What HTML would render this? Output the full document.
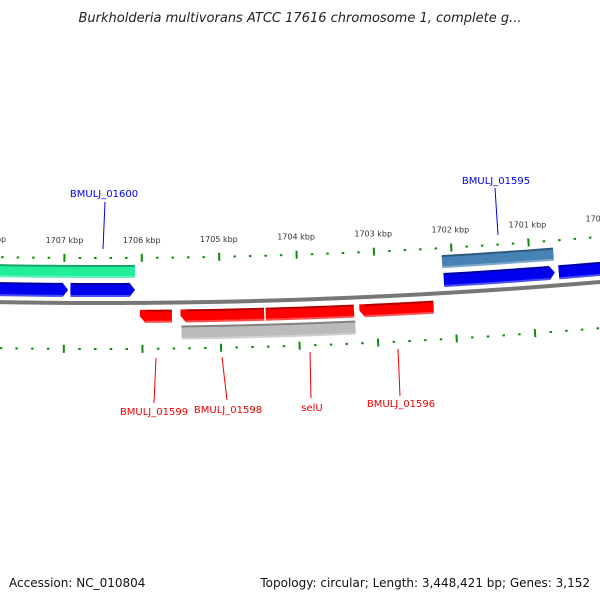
<!DOCTYPE html>
<html><head><meta charset="utf-8"><style>
body{margin:0;background:#fff}
svg{display:block;font-family:"DejaVu Sans","Liberation Sans",sans-serif}
</style></head><body>
<svg id="map" width="600" height="600" viewBox="0 0 600 600">
<text x="300" y="22" text-anchor="middle" font-size="13" font-style="italic" fill="#222">Burkholderia multivorans ATCC 17616 chromosome 1, complete g...</text>
<text x="9" y="587" font-size="12" fill="#111">Accession: NC_010804</text>
<text x="590" y="587" text-anchor="end" font-size="12" fill="#111">Topology: circular; Length: 3,448,421 bp; Genes: 3,152</text>
<g id="g"></g>
</svg>
<script>
const tickKbp=[1699,1700,1701,1702,1703,1704,1705,1706,1707,1708];
const geneNames=["green-1","green-2","blue-1","blue-2","BMULJ_01599","BMULJ_01598","selU","BMULJ_01596","gray-1","steelblue-1","BMULJ_01595","blue-4"];
const geneStart=[1707.95,1706.94,1707.95,1706.92,1706.03,1705.51,1704.42,1703.22,1705.50,1702.13,1702.12,1700.64];
const geneEnd=[1706.94,1706.09,1706.95,1706.09,1705.62,1704.44,1703.29,1702.27,1703.28,1700.69,1700.69,1699.87];
const geneStrand=[0,0,1,1,-1,-1,0,-1,0,0,1,1];
const geneTrack=[0,0,1,1,2,2,2,2,3,0,1,1];
const geneColor=["#22ee99","#22ee99","#0000ee","#0000ee","#ff0000","#ff0000","#ff0000","#ff0000","#bbbbbb","#4682b4","#0000ee","#0000ee"];
const labels=[
 {t:"BMULJ_01600",x:104,y:197,c:"#0000ee",l:[105,202,103,249]},
 {t:"BMULJ_01595",x:496,y:184,c:"#0000ee",l:[495,188,498,235]},
 {t:"BMULJ_01599",x:154,y:415,c:"#ee0000",l:[156,358,154,403]},
 {t:"BMULJ_01598",x:228,y:413,c:"#ee0000",l:[222,357,227,400]},
 {t:"selU",x:312,y:411,c:"#ee0000",l:[310,352,311,398]},
 {t:"BMULJ_01596",x:401,y:407,c:"#ee0000",l:[398,349,400,396]}];
const R=5950,cx=100,cy=303-R,p0=1706.54,pxk=78;
function pt(p,off){const th=(p0-p)*pxk/R,r=R-off;return [cx+r*Math.sin(th),cy+r*Math.cos(th)];}
const tracks=[[25,38],[6,20],[-20,-7],[-37,-23]];
const g=document.getElementById('g');const NS="http://www.w3.org/2000/svg";
function mk(tag,a){const e=document.createElementNS(NS,tag);for(const k in a)e.setAttribute(k,a[k]);g.appendChild(e);return e;}
function arcPts(a,b,off,n){const r=[];for(let i=0;i<=n;i++){r.push(pt(a+(b-a)*i/n,off));}return r;}
let bb=arcPts(1709,1698,0,40).map(q=>q.join(',')).join(' ');
let e=mk('polyline',{points:bb,fill:'none',stroke:'#777','stroke-width':4});

for(const k of tickKbp){
 for(let j=0;j<5;j++){const p=k-j*0.2;
  for(const off of [45,-46]){
   const maj=j===0;const a=pt(p,off+(maj?4:1)),b=pt(p,off-(maj?4:1));
   const t=mk('line',{x1:a[0],y1:a[1],x2:b[0],y2:b[1],stroke:'#118811','stroke-width':maj?2:2.5});
   }
 }
 const lp=pt(k,60);const tl=mk('text',{x:lp[0],y:lp[1],'text-anchor':'middle','font-size':8,fill:'#333'});
 tl.textContent=k+' kbp';
 
}
for(let i=0;i<geneStart.length;i++){
 const [lo,hi]=tracks[geneTrack[i]];const a=geneStart[i],b=geneEnd[i],s=geneStrand[i],h=0.07;
 let top,bot,poly;
 if(s===1){top=arcPts(a,b+h,hi,8);bot=arcPts(b+h,a,lo,8);poly=[...top,pt(b,(lo+hi)/2),...bot];}
 else if(s===-1){top=arcPts(a,b,hi,8);bot=arcPts(b,a-h,lo,8);poly=[...top,...bot,pt(a,(lo+hi)/2)];}
 else{top=arcPts(a,b,hi,8);bot=arcPts(b,a,lo,8);poly=[...top,...bot];}
 const ge=mk('polygon',{points:poly.map(q=>q.join(',')).join(' '),fill:geneColor[i]});
 
 const st=mk('polyline',{points:arcPts(a-(s===-1?h:0),b+(s===1?h:0),hi-1,8).map(q=>q.join(',')).join(' '),fill:'none',stroke:'rgba(0,0,0,0.3)','stroke-width':2});
 
 const sb=mk('polyline',{points:arcPts(a-(s===-1?h:0),b+(s===1?h:0),lo+1,8).map(q=>q.join(',')).join(' '),fill:'none',stroke:'rgba(255,255,255,0.3)','stroke-width':2});
 
}
for(const L of labels){
 const ln=mk('line',{x1:L.l[0],y1:L.l[1],x2:L.l[2],y2:L.l[3],stroke:L.c,'stroke-width':1});
 
 const t=mk('text',{x:L.x,y:L.y,'text-anchor':'middle','font-size':10,fill:L.c});
 t.textContent=L.t;
 
}
</script>
</body></html>
